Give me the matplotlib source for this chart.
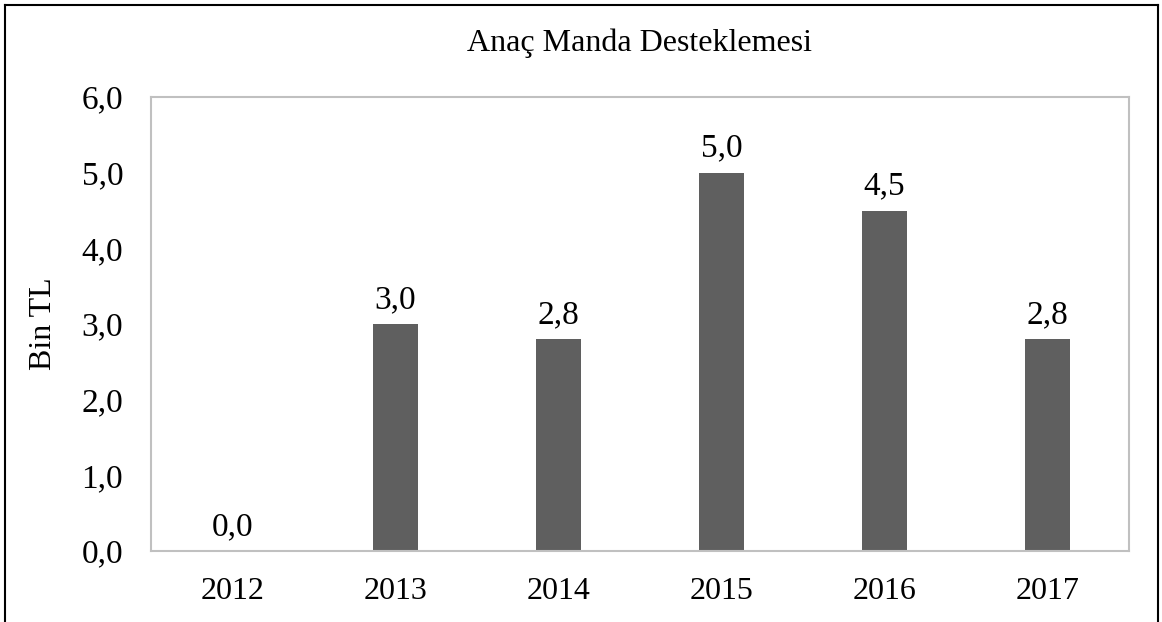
import matplotlib
matplotlib.use("Agg")
import matplotlib.pyplot as plt
from matplotlib.lines import Line2D

years = ["2012", "2013", "2014", "2015", "2016", "2017"]
values = [0.0, 3.0, 2.8, 5.0, 4.5, 2.8]
yticks = [0.0, 1.0, 2.0, 3.0, 4.0, 5.0, 6.0]

plt.rcParams['font.family'] = ['Liberation Serif', 'DejaVu Serif']

W, H = 1162, 622
fig = plt.figure(figsize=(W/100, H/100), dpi=100)
ax = fig.add_axes([151/W, 1-551/H, (1129-151)/W, (551-97)/H])

FS = 23
x = list(range(len(years)))
ax.bar(x, values, width=0.28, color='#5f5f5f', zorder=2)
for xi, v in zip(x, values):
    ax.text(xi, v + 0.12, f"{v:.1f}".replace('.', ','), ha='center', va='bottom', fontsize=24)

ax.set_xlim(-0.5, len(years) - 0.5)
ax.set_ylim(0, 6)
ax.set_xticks(x)
ax.set_xticklabels(years, fontsize=FS)
ax.set_yticks(yticks)
ax.set_yticklabels([f"{t:.1f}".replace('.', ',') for t in yticks], fontsize=24)
ax.tick_params(axis='y', length=0, pad=20)
ax.tick_params(axis='x', length=0, pad=19)
for s in ax.spines.values():
    s.set_color('#c0c0c0')
    s.set_linewidth(1.5)
ax.set_ylabel("Bin TL", fontsize=FS)
ax.yaxis.set_label_coords((58 - 151) / (1129 - 151), 0.5)

fig.text((151+1129)/2/W, 1-43/H, "Anaç Manda Desteklemesi", ha='center', va='center', fontsize=FS)

# outer frame (bottom edge lies beyond the image)
for xs, ys in [([5, 5], [0, H-5]), ([5, 1158], [H-5, H-5]), ([1158, 1158], [0, H-5])]:
    fig.add_artist(Line2D([xx/W for xx in xs], [yy/H for yy in ys], color='black', linewidth=1.5, transform=fig.transFigure))

fig.savefig("out.png", dpi=100)
